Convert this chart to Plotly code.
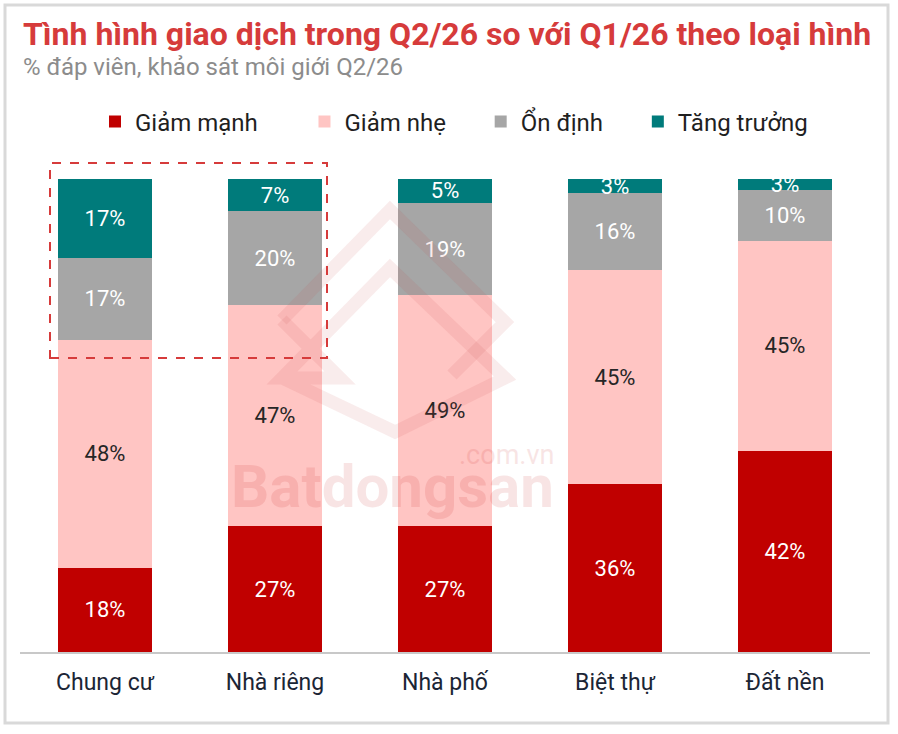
import plotly.graph_objects as go

categories = ["Chung cư", "Nhà riêng", "Nhà phố", "Biệt thự", "Đất nền"]
series_names = ["Giảm mạnh", "Giảm nhẹ", "Ổn định", "Tăng trưởng"]
giam_manh = [17.8, 26.6, 26.6, 35.5, 42.5]
giam_nhe = [48.2, 46.7, 48.8, 45.2, 44.4]
on_dinh = [17.3, 19.9, 19.5, 16.3, 10.8]
tang_truong = [16.7, 6.8, 5.1, 3.0, 2.3]
labels_giam_manh = ["18%", "27%", "27%", "36%", "42%"]
labels_giam_nhe = ["48%", "47%", "49%", "45%", "45%"]
labels_on_dinh = ["17%", "20%", "19%", "16%", "10%"]
labels_tang_truong = ["17%", "7%", "5%", "3%", "3%"]

colors = ["#c00000", "#ffc5c3", "#a6a6a6", "#007b7b"]
text_colors = ["#ffffff", "#262626", "#ffffff", "#ffffff"]
values = [giam_manh, giam_nhe, on_dinh, tang_truong]
labels = [labels_giam_manh, labels_giam_nhe, labels_on_dinh, labels_tang_truong]
legend_pad = [7, 5, 5, 0]

NBSP = "\u00a0"
fig = go.Figure()
for name, vals, lab, col, tcol, pad in zip(series_names, values, labels, colors, text_colors, legend_pad):
    fig.add_trace(go.Bar(
        x=categories, y=vals, name=name + NBSP * pad, text=lab,
        textposition="inside", insidetextanchor="middle",
        textfont=dict(family="Roboto", size=22, color=tcol),
        marker=dict(color=col, line=dict(width=0)),
        hoverinfo="skip",
    ))

W, H = 898, 734
L, R, T, B = 20, 28, 160, 82
pw = W - L - R
ph = H - T - B

def px(x):
    return (x - L) / pw

def py(y):
    return (H - B - y) / ph

fig.update_layout(
    width=W, height=H,
    margin=dict(l=L, r=R, t=T, b=B),
    barmode="stack", bargap=0.447,
    paper_bgcolor="white", plot_bgcolor="white",
    uniformtext=dict(minsize=22, mode="show"),
    showlegend=True,
    legend=dict(orientation="h", x=px(95), xanchor="left", y=py(122), yanchor="middle",
                font=dict(family="Roboto", size=24, color="#1f1f1f"),
                traceorder="normal", itemwidth=30),
    xaxis=dict(showgrid=False, showline=True, linecolor="#c8c8c8", linewidth=2,
               ticks="", ticklabelstandoff=8,
               tickfont=dict(family="Roboto", size=23, color="#1b2535"),
               fixedrange=True),
    yaxis=dict(range=[0, 104], visible=False, fixedrange=True),
    font=dict(family="Roboto"),
)

# title and subtitle
fig.add_annotation(xref="paper", yref="paper", x=px(21), y=py(34), xanchor="left", yanchor="middle",
                   text="<b>Tình hình giao dịch trong Q2/26 so với Q1/26 theo loại hình</b>",
                   showarrow=False,
                   font=dict(family="Liberation Sans Narrow, Roboto", size=32, color="#d63b3b"))
fig.add_annotation(xref="paper", yref="paper", x=px(21), y=py(67), xanchor="left", yanchor="middle",
                   text="% đáp viên, khảo sát môi giới Q2/26", showarrow=False,
                   font=dict(family="Liberation Sans Narrow, Roboto", size=24, color="#8c8c8c"))

# watermark logo (faint)
wm = "rgba(200,70,70,0.10)"
def path(pts):
    return "M " + " L ".join(f"{px(x):.4f},{py(y):.4f}" for x, y in pts)
fig.add_shape(type="path", xref="paper", yref="paper",
              path=path([(282, 320), (390, 210), (505, 322), (452, 375)]),
              line=dict(color=wm, width=13))
fig.add_shape(type="path", xref="paper", yref="paper",
              path=path([(282, 320), (340, 378), (282, 378), (390, 268), (505, 378), (395, 432), (282, 378)]),
              line=dict(color=wm, width=13))
fig.add_annotation(xref="paper", yref="paper", x=px(392), y=py(487), xanchor="center", yanchor="middle",
                   text="<b>Batdongsan</b>", showarrow=False, opacity=0.1,
                   font=dict(family="Roboto", size=60, color="#c00000"))
fig.add_annotation(xref="paper", yref="paper", x=px(556), y=py(455), xanchor="right", yanchor="middle",
                   text=".com.vn", showarrow=False, opacity=0.1,
                   font=dict(family="Roboto", size=27, color="#c00000"))

# dashed highlight box
fig.add_shape(type="rect", xref="paper", yref="paper",
              x0=px(50), x1=px(327), y0=py(358), y1=py(163),
              line=dict(color="#d63b3b", width=2, dash="dash"), fillcolor="rgba(0,0,0,0)")

# outer frame
fig.add_shape(type="rect", xref="paper", yref="paper",
              x0=px(5), x1=px(888), y0=py(723), y1=py(5),
              line=dict(color="#d9d9d9", width=3), fillcolor="rgba(0,0,0,0)", layer="below")

fig.write_html("out.html")
